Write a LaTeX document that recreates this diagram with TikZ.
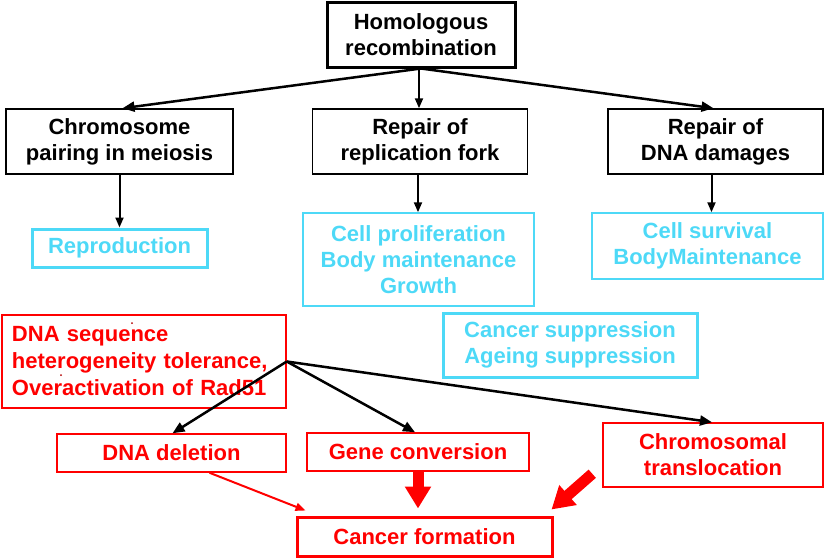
\documentclass[tikz,border=0pt]{standalone}
\usepackage{fontspec}
\setmainfont{Liberation Sans}
\usetikzlibrary{arrows.meta,calc}
\definecolor{hrcyan}{RGB}{77,217,247}
\definecolor{hrred}{RGB}{255,0,0}
\begin{document}
\begin{tikzpicture}[x=1pt,y=-1pt,
  every node/.style={font=\fontsize{22}{26}\selectfont\bfseries, align=center, inner sep=0pt},
  blackbox/.style={draw=black, line width=1.5pt, text=black},
  thickblack/.style={draw=black, line width=3pt, text=black},
  cyanbox/.style={draw=hrcyan, line width=1.5pt, text=hrcyan},
  thickcyan/.style={draw=hrcyan, line width=3pt, text=hrcyan},
  redbox/.style={draw=hrred, line width=1.5pt, text=hrred},
  thickred/.style={draw=hrred, line width=3pt, text=hrred},
  fanarrow/.style={draw=black, line width=2.5pt, -{Triangle[length=12pt,width=10pt]}},
  downarrow/.style={draw=black, line width=2pt, -{Triangle[length=10pt,width=8pt]}},
  thinred/.style={draw=hrred, line width=2pt, -{Triangle[length=10pt,width=8pt]}},
  blockred/.style={draw=hrred, line width=11pt, -{Triangle[length=22pt,width=25pt]}}
]
\useasboundingbox (0,0) rectangle (827,557);

% top
\node[thickblack, minimum width=188pt, minimum height=65pt] (hr) at (421,34.5) {Homologous\\recombination};

% row 2
\node[blackbox, minimum width=227pt, minimum height=65pt] (cp) at (119.5,141.5) {Chromosome\\pairing in meiosis};
\node[blackbox, minimum width=215pt, minimum height=65pt] (rf) at (420,141.5) {Repair of\\replication fork};
\node[blackbox, minimum width=215pt, minimum height=65pt] (dd) at (715.5,141.5) {Repair of\\DNA damages};

% cyan outcomes
\node[thickcyan, minimum width=175pt, minimum height=38pt] (rep) at (119.5,248) {Reproduction};
\node[cyanbox, minimum width=231pt, minimum height=93pt] (cpb) at (418.5,259.5) {Cell proliferation\\Body maintenance\\Growth};
\node[cyanbox, minimum width=231pt, minimum height=66pt] (cs) at (707.5,246) {Cell survival\\BodyMaintenance};
\node[thickcyan, minimum width=254pt, minimum height=64pt] (csup) at (570,345) {Cancer suppression\\Ageing suppression};

% red part
\node[redbox, minimum width=284pt, minimum height=93pt, align=left, text width=264pt,
      font=\fontsize{22}{27}\selectfont\bfseries] (dna) at (144,361.5) {DNA sequence\\heterogeneity tolerance,\\Overactivation of Rad51};
\node[redbox, minimum width=229pt, minimum height=38pt] (del) at (171.5,453) {DNA deletion};
\node[redbox, minimum width=222pt, minimum height=38pt] (gc) at (418,452) {Gene conversion};
\node[redbox, minimum width=220pt, minimum height=64pt] (ct) at (713,455) {Chromosomal\\translocation};
\node[thickred, minimum width=255pt, minimum height=39pt] (cf) at (424.5,536.5) {Cancer formation};

% stray dots
\fill[hrred!70!black] (132,323) circle (1pt);
\fill[hrred!70!black] (61,375) circle (1pt);

% top fan
\draw[fanarrow] (hr.south) -- ([xshift=3pt]cp.north);
\draw[downarrow] ([xshift=-2pt]hr.south) -- ([xshift=-2pt]hr.south |- rf.north);
\draw[fanarrow] (hr.south) -- ([xshift=-2pt]dd.north);

% down arrows
\draw[downarrow] (cp.south) -- (cp.south |- rep.north);
\draw[downarrow] ([xshift=-2pt]rf.south) -- ([xshift=-2pt]rf.south |- cpb.north);
\draw[downarrow] ([xshift=-4pt]dd.south) -- ([xshift=-4pt]dd.south |- cs.north);

% red fan
\coordinate (hub) at (dna.east);
\draw[fanarrow] (hub) -- ([xshift=1pt]del.north);
\draw[fanarrow] (hub) -- ([xshift=-3pt]gc.north);
\draw[fanarrow] (hub) -- ([xshift=-1pt]ct.north);

% to cancer formation
\draw[thinred] ($(del.south)+(38,0)$) -- ($(cf.north west)+(10,-5)$);
\draw[blockred, shorten >=7pt] (gc.south) -- (gc.south |- cf.north);
\draw[blockred] ($(ct.south west)+(-10,-14)$) -- ($(cf.north east)+(-2,-6)$);
\end{tikzpicture}
\end{document}
